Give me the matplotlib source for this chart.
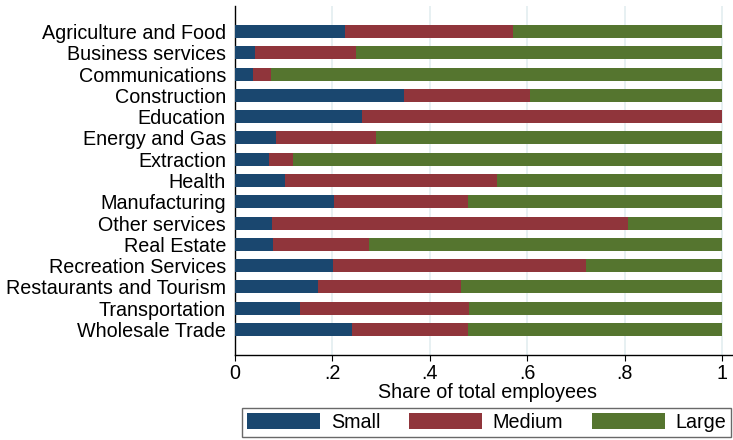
import matplotlib
matplotlib.use("Agg")
import matplotlib.pyplot as plt
import numpy as np

categories = ["Agriculture and Food", "Business services", "Communications",
              "Construction", "Education", "Energy and Gas", "Extraction",
              "Health", "Manufacturing", "Other services", "Real Estate",
              "Recreation Services", "Restaurants and Tourism",
              "Transportation", "Wholesale Trade"]
small = [0.225, 0.042, 0.036, 0.346, 0.260, 0.085, 0.069, 0.103,
         0.204, 0.075, 0.079, 0.202, 0.171, 0.134, 0.241]
medium = [0.345, 0.207, 0.037, 0.259, 0.740, 0.204, 0.051, 0.436,
          0.274, 0.732, 0.197, 0.518, 0.294, 0.346, 0.237]
large = [1 - s - m for s, m in zip(small, medium)]
series_names = ["Small", "Medium", "Large"]
xticks = [0, 0.2, 0.4, 0.6, 0.8, 1.0]
xticklabels = ["0", ".2", ".4", ".6", ".8", "1"]

colors = ["#1a476f", "#90353b", "#55752f"]
plt.rcParams['font.family'] = ['Liberation Sans', 'DejaVu Sans']
FS = 14.2

W, H = 733, 440
fig = plt.figure(figsize=(W / 100, H / 100), dpi=100)
left_px, right_px, top_px, bottom_px = 235, 741, 6, 355
ax = fig.add_axes([left_px / W, 1 - bottom_px / H, (right_px - left_px) / W,
                   (bottom_px - top_px) / H])

y = np.arange(len(categories))
s = np.array(small)
m = np.array(medium)
l = np.array(large)
h = 0.61
ax.barh(y, s, height=h, color=colors[0], label=series_names[0], zorder=3)
ax.barh(y, m, left=s, height=h, color=colors[1], label=series_names[1], zorder=3)
ax.barh(y, l, left=s + m, height=h, color=colors[2], label=series_names[2], zorder=3)

ax.set_xlim(0, (right_px - left_px) / 487)
ax.set_ylim((bottom_px - 31.5) / 21.29, -(31.5 - top_px) / 21.29)
ax.set_yticks(y)
ax.set_yticklabels(categories, fontsize=FS)
ax.tick_params(axis='y', length=0, pad=6.5)
ax.set_xticks(xticks)
ax.set_xticklabels(xticklabels, fontsize=FS)
ax.tick_params(axis='x', length=4.3, width=0.8, pad=2.0, direction='out')
ax.set_xlabel("Share of total employees", fontsize=FS, labelpad=0)

for sp in ['top', 'right']:
    ax.spines[sp].set_visible(False)
for sp in ['left', 'bottom']:
    ax.spines[sp].set_linewidth(1.0)
    ax.spines[sp].set_color('black')

ax.grid(axis='x', color='#e3eef0', linewidth=1.2, zorder=0)
ax.set_axisbelow(True)

leg = fig.legend(loc='upper left', bbox_to_anchor=(242 / W, 1 - 408 / H),
                 bbox_transform=fig.transFigure, ncol=3, fontsize=FS,
                 frameon=True, fancybox=False, borderaxespad=0,
                 handlelength=3.7, handleheight=0.85, handletextpad=0.55,
                 columnspacing=1.45, borderpad=0.25)
leg.get_frame().set_edgecolor('#444444')
leg.get_frame().set_linewidth(1.0)

fig.savefig("out.png", dpi=100)
